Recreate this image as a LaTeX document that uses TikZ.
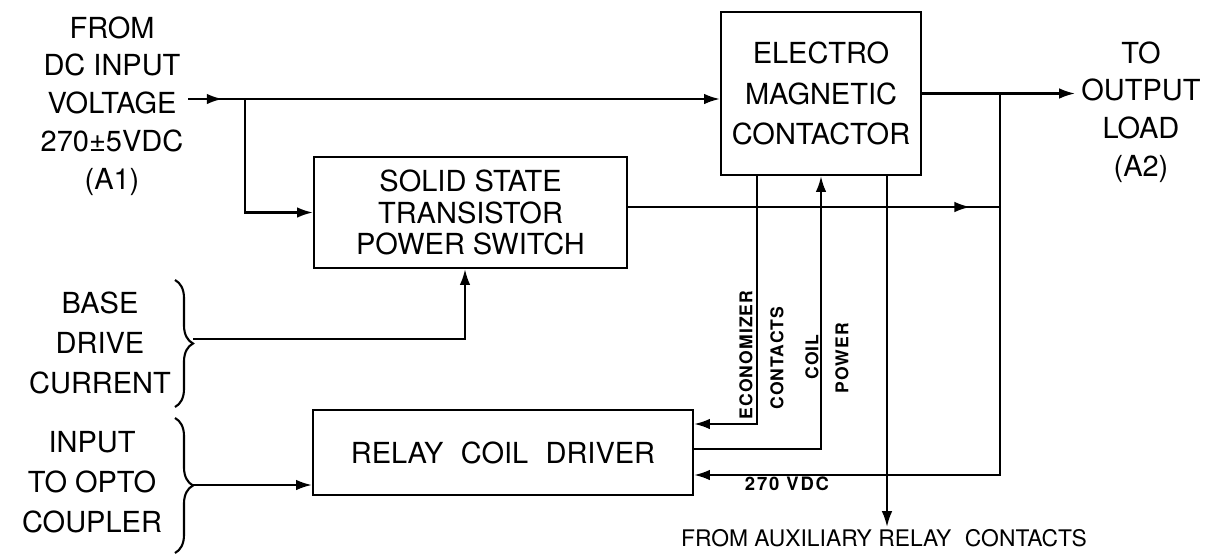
\documentclass[tikz,border=0pt]{standalone}
\usepackage{fontspec}
\setmainfont{TeX Gyre Heros}
\usetikzlibrary{arrows.meta,positioning,decorations.pathreplacing,decorations.markings}

\begin{document}
\begin{tikzpicture}[
        x=0.02cm, y=-0.02cm,
        >={Latex[length=9pt,width=6pt]},
        wire/.style={line width=1.2pt},
        block/.style={draw, line width=1.3pt, align=center, inner sep=0pt, font=\fontsize{16.5}{20}\selectfont},
        lbl/.style={align=center, inner sep=0pt, font=\fontsize{16.5}{21.5}\selectfont},
        vlabel/.style={inner sep=0pt, rotate=90, font=\fontsize{10}{11}\selectfont\bfseries\addfontfeature{LetterSpace=6}},
        curly/.style={line width=1.2pt, decorate, decoration={brace, amplitude=0.36cm}},
        midarrow/.style={postaction={decorate}, decoration={markings, mark=at position #1 with {\arrow{>}}}}
    ]
    \useasboundingbox (0,0) rectangle (1213,558);

    \node (cont) [block, minimum width=4cm, minimum height=3.26cm, font=\fontsize{16.5}{23.2}\selectfont] at (821,93.5) {ELECTRO\\MAGNETIC\\CONTACTOR};
    \node (ssw) [block, minimum width=6.26cm, minimum height=2.22cm, font=\fontsize{16.5}{17.9}\selectfont] at (470.5,212.5) {SOLID STATE\\TRANSISTOR\\POWER SWITCH};
    \node (rcd) [block, minimum width=7.6cm, minimum height=1.7cm] at (503,452.5) {RELAY\hspace{0.6em}COIL\hspace{0.6em}DRIVER};

    \node (src) [lbl] at (112,106) {FROM\\DC INPUT\\VOLTAGE\\270±5VDC\\(A1)};
    \node (load) [lbl] at (1141,112) {TO\\OUTPUT\\LOAD\\(A2)};
    \node (base) [lbl, font=\fontsize{16.5}{22.7}\selectfont] at (100,343) {BASE\\DRIVE\\CURRENT};
    \node (opto) [lbl, font=\fontsize{16.5}{22.7}\selectfont] at (92,482) {INPUT\\TO OPTO\\COUPLER};
    \node (aux) [inner sep=0pt, font=\fontsize{13}{15}\selectfont] at (884,538) {FROM AUXILIARY RELAY\hspace{0.6em}CONTACTS};
    \node (vdc) [inner sep=0pt, font=\fontsize{10.5}{12}\selectfont\bfseries\addfontfeature{LetterSpace=10}] at (787,484) {270 VDC};
    \node (econ) [vlabel] at (746,355) {ECONOMIZER};
    \node (ctc) [vlabel] at (777,358) {CONTACTS};
    \node (coil) [vlabel] at (812,357) {COIL};
    \node (pwr) [vlabel] at (842,358) {POWER};

    \coordinate (vin) at (188,99);
    \coordinate (tap) at (245,99);
    \coordinate (outp) at (1075,93.5);
    \coordinate (jn) at (1000,93.5);
    \coordinate (ssout) at (1000,207);
    \coordinate (v270) at (1000,475);
    \coordinate (eco) at (757,424);
    \coordinate (cpw) at (821,449);
    \coordinate (auxend) at (887,527);
    \coordinate (bd) at (193,339);
    \coordinate (bdup) at (465,339);
    \coordinate (op) at (193,485);

    \draw[wire, ->, midarrow=0.065] (vin) -- (vin -| cont.west);
    \draw[wire, ->] (tap) |- (ssw.west);
    \draw[wire, ->] (cont.east) -- (outp);
    \draw[wire, midarrow=0.92] (ssout -| ssw.east) -- (ssout);
    \draw[wire, ->] (jn) -- (v270) -- (v270 -| rcd.east);
    \draw[wire, ->] (eco |- cont.south) -- (eco) -- (eco -| rcd.east);
    \draw[wire, ->] (cpw -| rcd.east) -- (cpw) -- (cpw |- cont.south);
    \draw[wire, ->] (auxend |- cont.south) -- (auxend);
    \draw[wire, ->] (bd) -- (bdup) -- (bdup |- ssw.south);
    \draw[wire, ->] (op) -- (op -| rcd.west);

    \draw[curly] (175,280) -- (175,407);
    \draw[curly] (175,418) -- (175,553);
\end{tikzpicture}
\end{document}
